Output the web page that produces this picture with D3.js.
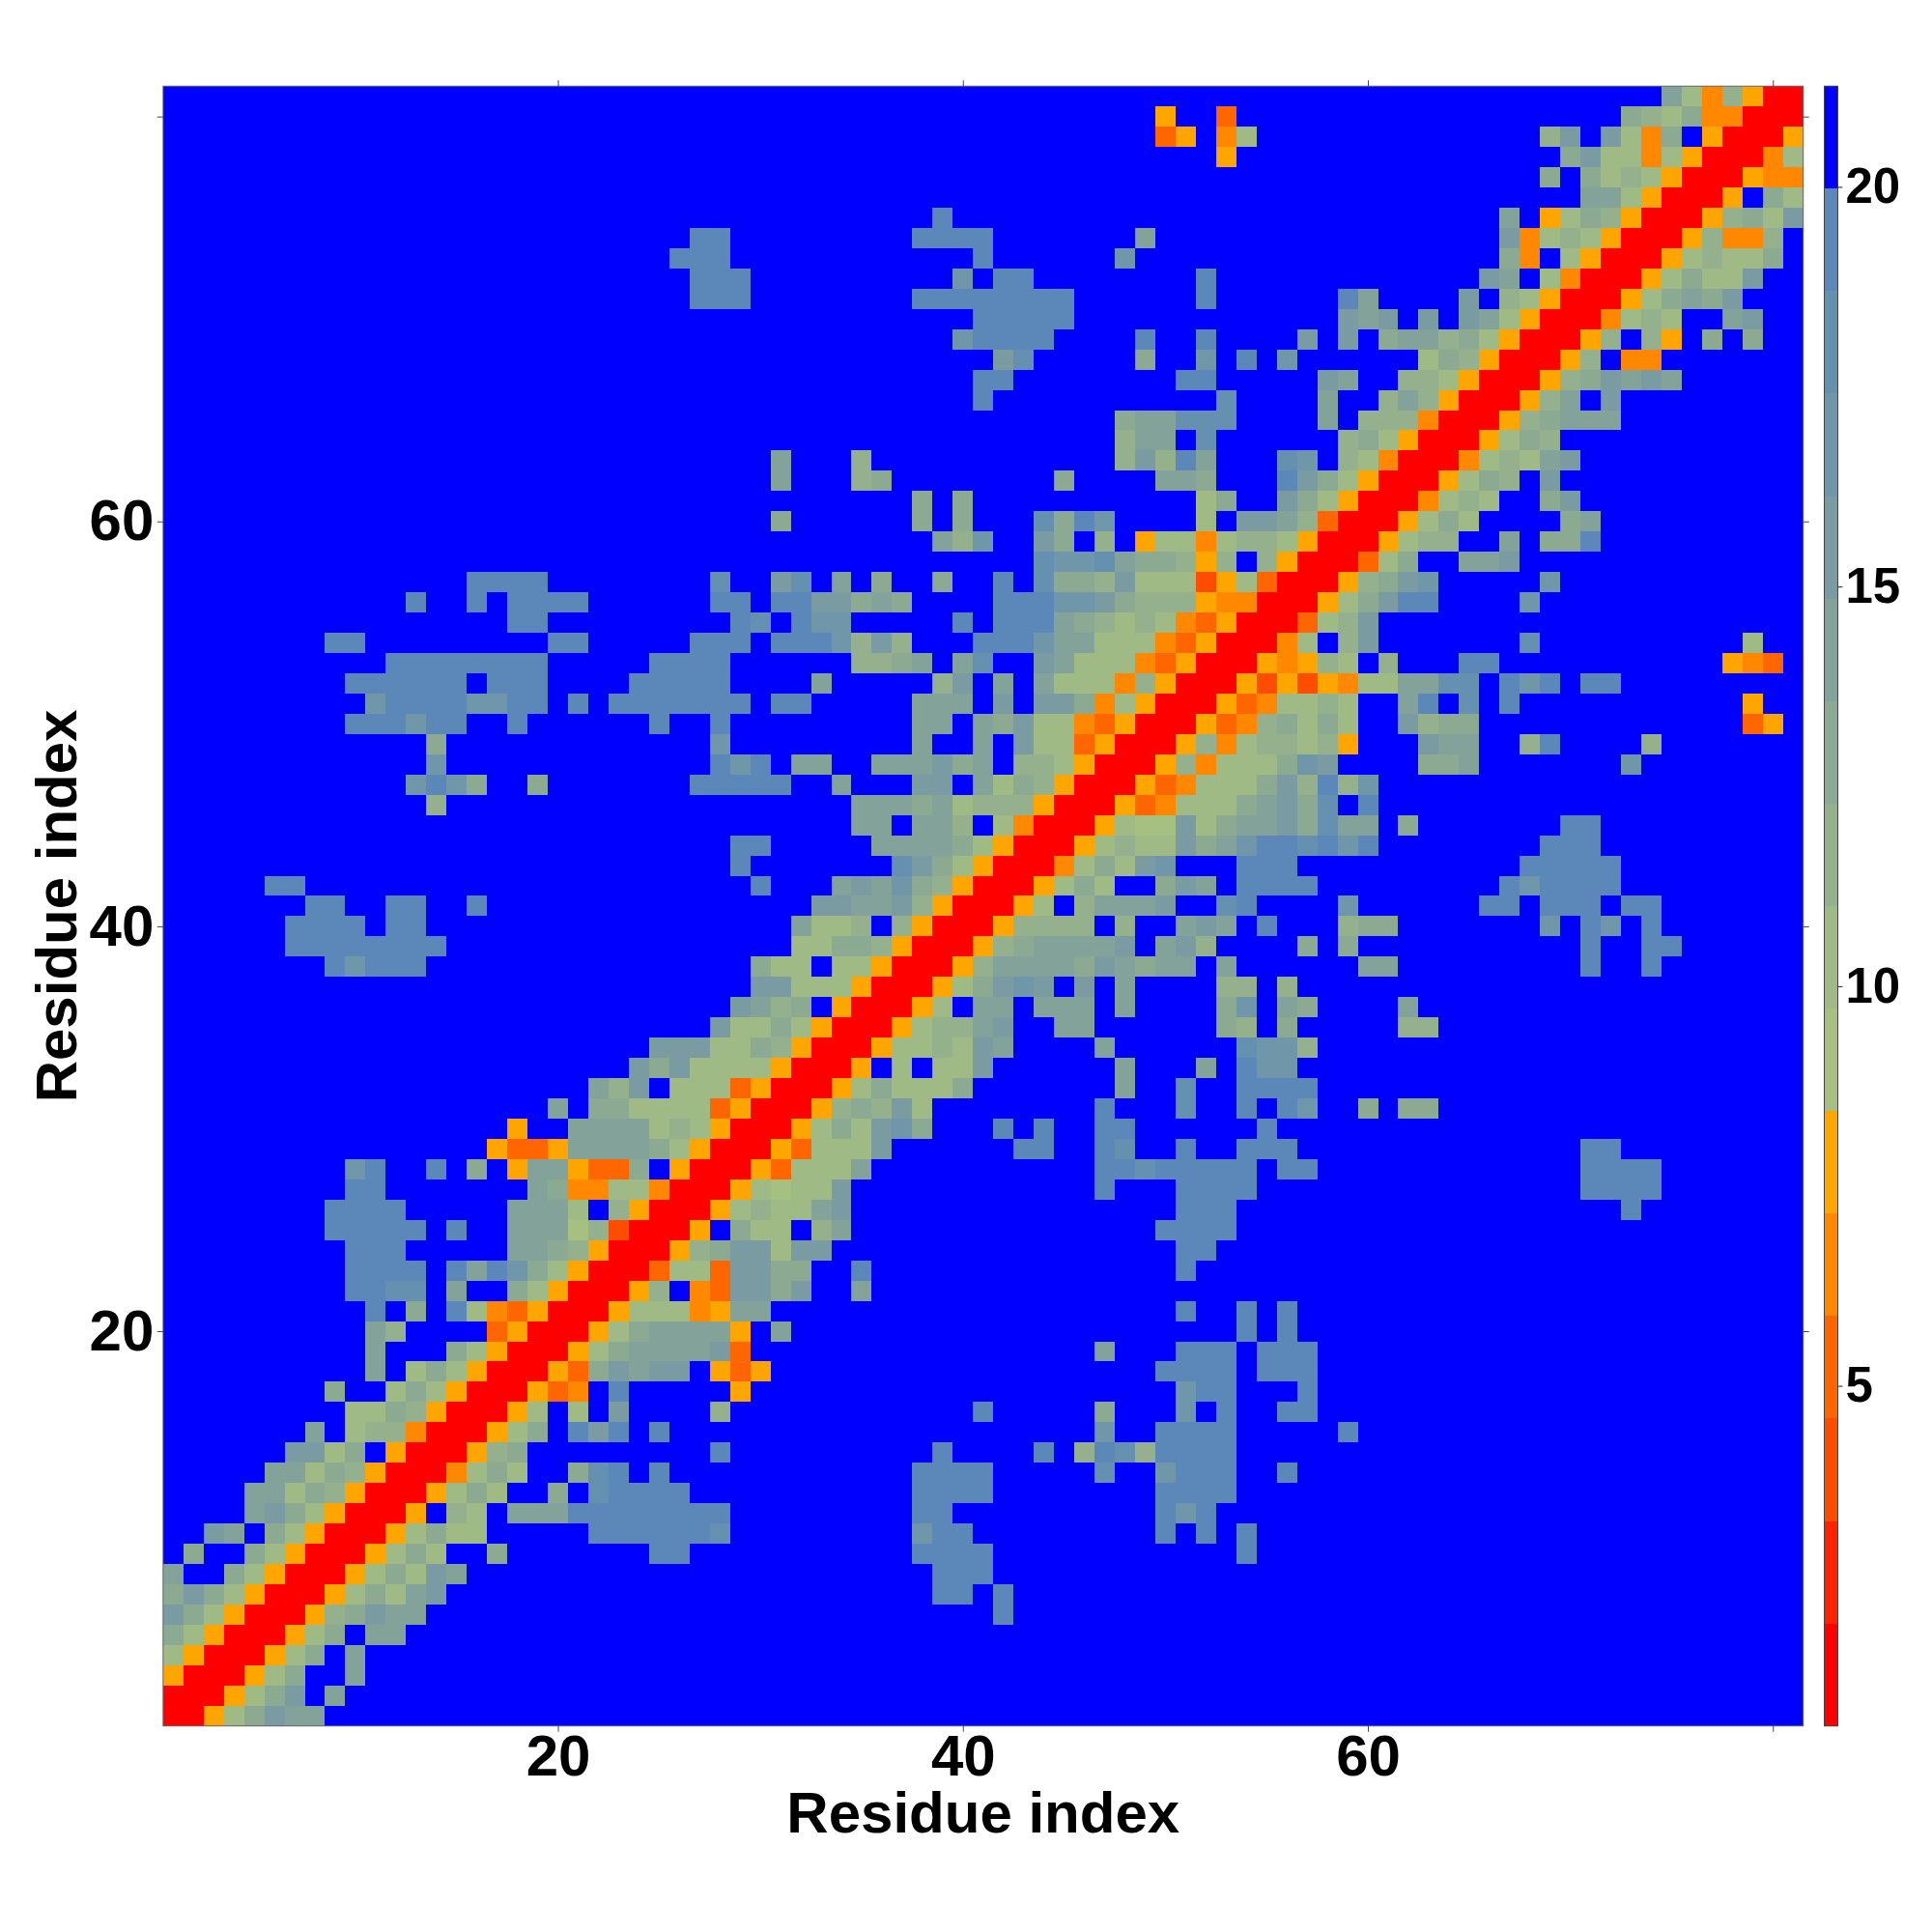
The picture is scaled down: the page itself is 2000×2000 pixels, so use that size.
<!DOCTYPE html>
<html>
<head>
<meta charset="utf-8">
<script src="https://cdn.jsdelivr.net/npm/d3@7"></script>
<style>
html,body{margin:0;padding:0;background:#fff}
svg{display:block}
text{font-family:"Liberation Sans",Arial,sans-serif;font-weight:bold;fill:#000}
</style>
</head>
<body>
<div id="chart"></div>
<script>
// Each row runs from the top of the map (residue 81) to the bottom (residue 1).
// "col:codes" = consecutive cells from that residue; codes 0-e are the colour-bar bins, other cells are the top bin.
const contactRows = [
"75:a748500",
"50:5 53:3 73:987944000",
"50:35 53:47 69:8b 72:b749 77:50005",
"53:5 70:9b7747500047",
"69:9 71:97875000544",
"71:aa750005 80:97",
"39:e 67:a 69:579850005897b",
"27:ee 38:eeee 49:a 67:b4787500058448",
"26:eee 41:e 48:c 67:94 70:75000578779",
"27:eee 40:c 42:ee 52:e 66:ba 69:7400057977b",
"27:eee 38:eeeeeeee 52:e 59:ea 65:b 67:875000579a9b",
"41:eeeee 59:bab 63:b 65:ba 67:750004787 78:ab",
"40:ceeee 49:e 52:e 57:b 59:b 61:9aa897500058 74:85 77:9 79:9",
"42:bd 49:9 52:c 54:e 56:c 63:798500058 73:44",
"41:ee 51:ee 58:ba 62:8875000589baba",
"41:e 53:d 58:a 61:8a8500058a 72:b",
"48:9aaddd 58:a 60:8884000589aaa",
"48:8aa 52:d 59:89750005798",
"31:a 35:8 48:8b8ea 56:dc 59:8740004787ab",
"31:a 35:89 45:9 50:aa9 56:eb9750005798 69:b",
"38:9 40:9 52:79 56:b9750004787 69:9b",
"31:9 38:9 40:9 44:d9ec 52:7 54:bba830005797 70:9a",
"39:a8c 44:b9 47:8 49:5774788750005788 67:a 69:99e",
"44:dccda99858 55:85000379 65:aab",
"16:eeee 28:d 31:bd 34:a 36:9 39:9 42:e 44:d998b7772573000589bc 69:c",
"13:e 16:e 18:eeee 28:ee 31:eebb9a9 42:eeeccb9888544000579bee 68:c",
"18:ee 29:ed 32:ecc 40:e 42:eeea98787435000378b",
"9:ee 20:ee 27:eee 31:eeec8b8 41:eeecaa77743500047 59:8b 68:d 79:7",
"12:eeeeeeee 25:eeee 35:889a 40:ad 44:ba77743500054587 61:8 65:ee 78:543",
"10:eeeeee 17:eee 24:eeeee 33:a 39:8b 42:a 44:a77748500052525477aadd 67:ece 71:ee",
"11:ceeeeccee 21:e 23:eeeeeee 31:ee 38:aaa 42:b 44:bb94750005347787 62:ae 65:d 67:e 79:5",
"10:eeecee 18:e 25:e 28:e 38:aa 41:a9b7743500053489797 62:b899 79:35",
"14:9 28:c 38:a 41:a 43:b7735000584788785 63:baa 68:8e 74:8",
"14:c 28:ece 32:aa 36:aaab9a 43:88750005847779cb 63:99a 73:c",
"13:cec9 19:9 27:eeeee 34:a 38:bb 41:a79850005347779b8e8c",
"14:8 35:aaa9a788850005347779ab9d 60:e",
"35:aa 38:aa8 42:740005766b79aab9daa 62:9 70:ee",
"29:ee 36:aaaa97500057877b9aceedece 69:eee",
"29:e 37:db9750004797bc 54:eee 68:eeeee",
"6:ee 30:e 34:abac 38:9850005797 50:9ba 54:eeee 67:eceeee",
"8:ee 12:ee 16:e 33:bbaab 38:8500057 46:8aaab 53:de 59:c 66:ee 69:eee 73:ee",
"7:eeee 12:ee 32:a778 37:8500058888 48:8 51:aba 55:e 59:899 69:c 71:ec 74:e",
"7:eeeeeeee 32:779985000589aaaab 50:ab8 57:9 59:9 71:e 74:ee",
"9:eceee 30:977 34:77500058aaaa9ba9aa 53:a 60:aa 71:e 74:e",
"30:bb777 35:5000579bcb 46:b 48:a 53:88 56:8",
"29:ba89 34:500057 41:aa 44:aaa 48:a 53:9c 56:a9 62:a",
"28:b779750005788ab 45:aa 53:98 56:9 62:88",
"25:bbb7798500057787ba 47:a 54:dcc8",
"24:b9b7777 31:50005 37:7 39:77b 48:a 52:a 54:ecc",
"22:a8b 26:777350005797779 48:a 51:d 54:eeee",
"20:a 22:997777 28:350005898b7 47:e 51:d 54:e 56:ec 60:9 62:99",
"18:5 21:aaaa7875 29:0005797bc9 42:e 44:e 47:ee 55:e",
"17:5335 21:aaaa975 28:00053777b 43:ee 47:ed 51:e 54:eee 71:ee",
"10:ce 14:e 16:9 18:5aa5339 26:500053777a 47:eedeeeee 56:ee 71:eeee",
"10:ee 19:a94477400057677b 47:e 51:eeee 71:eeee",
"9:eeee 18:aaa7 23:8500057877ab 51:eee 73:e",
"9:eeeee 15:e 18:aaa682 24:0005 29:977 33:8a 50:eeee",
"10:eee 18:aa985 23:000589bb7bb 51:ee",
"10:eeee 15:eaec975 22:0003773bb99 35:e 51:e",
"10:eedd 15:a 18:97500058 27:43bb9b 35:a",
"11:e 13:9 15:e7435000577745aa 51:e 54:e 56:e",
"11:a8 17:35000579aaaa5 31:a 54:e 56:e",
"11:a 15:975000579aaaab3 47:a 51:eee 55:eee",
"11:a 13:7975000539babb 28:535 50:eeee 55:eee",
"9:9 12:7975000534 23:e 29:5 51:cee 57:e",
"10:7798500057 21:7 23:b 28:8 41:e 47:9 51:c 53:e 56:ee",
"8:a 10:7884000579 21:ebe 25:e 47:c 50:eeee 59:e",
"7:bb79 12:5000589 28:e 39:e 44:e 46:8ed8 50:eeee",
"6:aa798 11:50004797 21:9de 25:e 38:eeee 47:d 50:ceee 56:e",
"5:aa798 10:50005797 20:9 22:deeee 38:eeee 50:eeee",
"5:ab975 10:0005 15:87 18:aaaeeeeeeee 38:ee 50:ece",
"3:ba 6:97500057977 22:eeeeeed 38:cee 50:e 52:e 54:e",
"2:9 5:9750005797 17:9 25:ee 38:eeee 54:e",
"1:a 4:9750005797ba 39:eee",
"1:9b9750005797ab 39:ee 42:e",
"1:b975000589baa 42:e",
"1:975000579 11:aa",
"1:75000579 10:a",
"1:5000579 10:a",
"1:000579b 9:a",
"1:00579baa"
];
const residueCount = 81;
const levelColours = ["#ff0000","#ff2200","#ff4d00","#ff6600","#ff8800","#ffa500",
  "#a6c081","#9fba85","#95b08c","#8ca992","#82a29a","#799ba1","#7096a9","#6690b0","#5b88b8","#0000ff"];
const colourDomain = [0.745, 21.26];
const axisTicks = [20, 40, 60, 80];
const labelledTicks = [20, 40, 60];
const colourTicks = [5, 10, 15, 20];
const axisTitle = "Residue index";

const plot = {left: 168.8, right: 1866.7, top: 89.2, bottom: 1786.7};
const bar = {left: 1888.5, right: 1902.5};

const svg = d3.select("#chart").append("svg").attr("width", 2000).attr("height", 2000);

const x = d3.scaleLinear().domain([0.5, residueCount + 0.5]).range([plot.left, plot.right]);
const y = d3.scaleLinear().domain([0.5, residueCount + 0.5]).range([plot.bottom, plot.top]);
const colour = d3.scaleQuantize().domain(colourDomain).range(levelColours);
const binWidth = (colourDomain[1] - colourDomain[0]) / levelColours.length;
const binValue = i => colourDomain[0] + (i + 0.5) * binWidth;

// decode rows into a value per cell
const cells = [];
contactRows.forEach((row, t) => {
  const resY = residueCount - t;
  const filled = new Map();
  row.split(" ").filter(Boolean).forEach(seg => {
    const [start, codes] = seg.split(":");
    [...codes].forEach((ch, k) => filled.set(+start + k, parseInt(ch, 16)));
  });
  d3.range(1, residueCount + 1).forEach(resX => {
    const lvl = filled.has(resX) ? filled.get(resX) : 15;
    cells.push({resX, resY, value: binValue(lvl)});
  });
});

svg.append("g").attr("shape-rendering", "crispEdges").selectAll("rect").data(cells).join("rect")
  .attr("x", d => x(d.resX - 0.5))
  .attr("y", d => y(d.resY + 0.5))
  .attr("width", d => x(d.resX + 0.5) - x(d.resX - 0.5))
  .attr("height", d => y(d.resY - 0.5) - y(d.resY + 0.5))
  .attr("fill", d => colour(d.value));

svg.append("rect")
  .attr("x", plot.left).attr("y", plot.top)
  .attr("width", plot.right - plot.left).attr("height", plot.bottom - plot.top)
  .attr("fill", "none").attr("stroke", "#666").attr("stroke-width", 1);

const tickLabel = d => labelledTicks.includes(d) ? d : "";
function styleAxis(g) {
  g.select(".domain").remove();
  g.selectAll(".tick line").attr("stroke", "#444").attr("stroke-width", 1);
  g.selectAll(".tick text").style("font-size", "60px").style("font-family", '"Liberation Sans",Arial,sans-serif').style("font-weight", "bold");
}
svg.append("g").attr("transform", `translate(0,${plot.bottom})`)
  .call(d3.axisBottom(x).tickValues(axisTicks).tickSize(6).tickPadding(3).tickFormat(tickLabel))
  .call(styleAxis);
svg.append("g").attr("transform", `translate(0,${plot.top})`)
  .call(d3.axisTop(x).tickValues(axisTicks).tickSize(6).tickFormat(""))
  .call(styleAxis);
svg.append("g").attr("transform", `translate(${plot.left},0)`)
  .call(d3.axisLeft(y).tickValues(axisTicks).tickSize(6).tickPadding(3.5).tickFormat(tickLabel))
  .call(styleAxis);
svg.append("g").attr("transform", `translate(${plot.right},0)`)
  .call(d3.axisRight(y).tickValues(axisTicks).tickSize(6).tickFormat(""))
  .call(styleAxis);

svg.append("text").attr("x", (plot.left + plot.right) / 2).attr("y", 1897)
  .attr("text-anchor", "middle").style("font-size", "60px").text(axisTitle);
svg.append("text").attr("transform", `translate(79,${(plot.top + plot.bottom) / 2}) rotate(-90)`)
  .attr("text-anchor", "middle").style("font-size", "60px").text(axisTitle);

// colour bar
const barY = d3.scaleLinear().domain(colourDomain).range([plot.bottom, plot.top]);
svg.append("g").attr("shape-rendering", "crispEdges").selectAll("rect").data(levelColours).join("rect")
  .attr("x", bar.left).attr("width", bar.right - bar.left)
  .attr("y", (d, i) => barY(colourDomain[0] + (i + 1) * binWidth))
  .attr("height", (d, i) => barY(colourDomain[0] + i * binWidth) - barY(colourDomain[0] + (i + 1) * binWidth))
  .attr("fill", d => d);
svg.append("rect")
  .attr("x", bar.left).attr("y", plot.top)
  .attr("width", bar.right - bar.left).attr("height", plot.bottom - plot.top)
  .attr("fill", "none").attr("stroke", "#444").attr("stroke-width", 1);
svg.append("g").attr("transform", `translate(${bar.right},0)`)
  .call(d3.axisRight(barY).tickValues(colourTicks).tickSize(5).tickPadding(3))
  .call(g => {
    g.select(".domain").remove();
    g.selectAll(".tick line").attr("stroke", "#222");
    g.selectAll(".tick text").style("font-size", "51px").style("font-family", '"Liberation Sans",Arial,sans-serif').style("font-weight", "bold");
  });
</script>
</body>
</html>
